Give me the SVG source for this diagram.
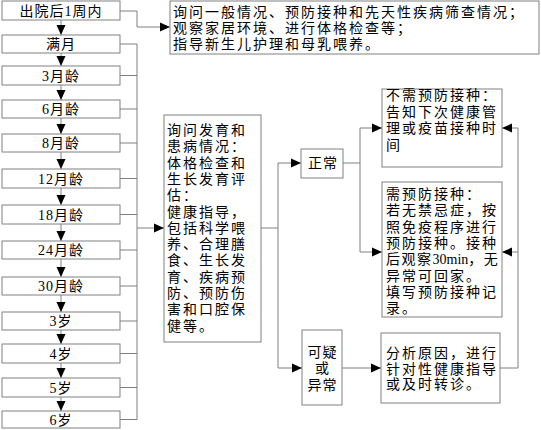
<svg xmlns="http://www.w3.org/2000/svg" width="541" height="430" viewBox="0 0 541 430">
<defs>
<marker id="ah" markerUnits="userSpaceOnUse" markerWidth="10" markerHeight="10" viewBox="0 0 10 10" refX="10" refY="5" orient="auto">
<path d="M0,0.5 L10,5 L0,9.5 Z" fill="#000"/>
</marker>
<style>
.box{fill:#fff;stroke:#808080;stroke-width:1}
.ln{fill:none;stroke:#808080;stroke-width:1}
.ar{fill:none;stroke:#808080;stroke-width:1;marker-end:url(#ah)}
text{font-family:"Liberation Serif","Noto Sans CJK SC",serif;font-size:14px;fill:#000}
.c{text-anchor:middle;letter-spacing:1px}
.t{letter-spacing:2px}
.n{letter-spacing:0;font-family:"Liberation Serif",serif}
.s{letter-spacing:1.5px}
</style>
</defs>
<rect width="541" height="430" fill="#fff"/>
<g id="connectors">
<line class="ar" x1="61" y1="20" x2="61" y2="35"/>
<line class="ar" x1="61" y1="53" x2="61" y2="66"/>
<line class="ar" x1="61" y1="85" x2="61" y2="100"/>
<line class="ar" x1="61" y1="118" x2="61" y2="134"/>
<line class="ar" x1="61" y1="152" x2="61" y2="169"/>
<line class="ar" x1="61" y1="188" x2="61" y2="205"/>
<line class="ar" x1="61" y1="224" x2="61" y2="241"/>
<line class="ar" x1="61" y1="259" x2="61" y2="277"/>
<line class="ar" x1="61" y1="295" x2="61" y2="312"/>
<line class="ar" x1="61" y1="330" x2="61" y2="344"/>
<line class="ar" x1="61" y1="363" x2="61" y2="378"/>
<line class="ar" x1="61" y1="397" x2="61" y2="411"/>
<polyline class="ar" points="120,11 137,11 137,27 170,27"/>
<path class="ln" d="M120,44H137M120,75.5H137M120,109H137M120,143H137M120,178.5H137M120,214.5H137M120,250H137M120,286H137M120,321H137M120,353.5H137M120,387.5H137M120,419.5H137M137,44V419.5"/>
<line class="ar" x1="137" y1="228" x2="164" y2="228"/>
<polyline class="ln" points="261,228 278,228"/>
<polyline class="ar" points="278,368 278,163 301,163"/>
<line class="ar" x1="278" y1="368" x2="302" y2="368"/>
<polyline class="ln" points="343,163 360,163"/>
<polyline class="ar" points="360,252 360,128 382,128"/>
<line class="ar" x1="360" y1="252" x2="382" y2="252"/>
<line class="ar" x1="342" y1="368" x2="381" y2="368"/>
<polyline class="ln" points="500,368 518,368 518,128"/>
<line class="ar" x1="518" y1="128" x2="502" y2="128"/>
<line class="ar" x1="518" y1="252" x2="502" y2="252"/>
</g>
<g id="n1"><rect class="box" x="2" y="1" width="118" height="19"/><text class="c" x="61" y="15.5">出院后1周内</text></g>
<g id="n2"><rect class="box" x="2" y="35" width="118" height="18"/><text class="c" x="61" y="49">满月</text></g>
<g id="n3"><rect class="box" x="2" y="66" width="118" height="19"/><text class="c" x="61" y="80.5">3月龄</text></g>
<g id="n4"><rect class="box" x="2" y="100" width="118" height="18"/><text class="c" x="61" y="114">6月龄</text></g>
<g id="n5"><rect class="box" x="2" y="134" width="118" height="18"/><text class="c" x="61" y="148">8月龄</text></g>
<g id="n6"><rect class="box" x="2" y="169" width="118" height="19"/><text class="c" x="61" y="183.5">12月龄</text></g>
<g id="n7"><rect class="box" x="2" y="205" width="118" height="19"/><text class="c" x="61" y="219.5">18月龄</text></g>
<g id="n8"><rect class="box" x="2" y="241" width="118" height="18"/><text class="c" x="61" y="255">24月龄</text></g>
<g id="n9"><rect class="box" x="2" y="277" width="118" height="18"/><text class="c" x="61" y="291">30月龄</text></g>
<g id="n10"><rect class="box" x="2" y="312" width="118" height="18"/><text class="c" x="61" y="326">3岁</text></g>
<g id="n11"><rect class="box" x="2" y="344" width="118" height="19"/><text class="c" x="61" y="358.5">4岁</text></g>
<g id="n12"><rect class="box" x="2" y="378" width="118" height="19"/><text class="c" x="61" y="392.5">5岁</text></g>
<g id="n13"><rect class="box" x="2" y="411" width="118" height="17"/><text class="c" x="61" y="424.5">6岁</text></g>
<g id="top"><rect class="box" x="170" y="1" width="369" height="53"/>
<text class="t" x="173"><tspan x="173" y="17">询问一般情况、预防接种和先天性疾病筛查情况；</tspan><tspan x="173" y="33">观察家居环境、进行体格检查等；</tspan><tspan x="173" y="48.5">指导新生儿护理和母乳喂养。</tspan></text></g>
<g id="mid"><rect class="box" x="164" y="115" width="97" height="227"/>
<text class="t"><tspan x="167" y="135">询问发育和</tspan><tspan x="167" y="151.3">患病情况：</tspan><tspan x="167" y="167.6">体格检查和</tspan><tspan x="167" y="183.9">生长发育评</tspan><tspan x="167" y="200.2">估：</tspan><tspan x="167" y="216.5">健康指导，</tspan><tspan x="167" y="232.8">包括科学喂</tspan><tspan x="167" y="249.1">养、合理膳</tspan><tspan x="167" y="265.4">食、生长发</tspan><tspan x="167" y="281.7">育、疾病预</tspan><tspan x="167" y="298">防、预防伤</tspan><tspan x="167" y="314.3">害和口腔保</tspan><tspan x="167" y="330.6">健等。</tspan></text></g>
<g id="normal"><rect class="box" x="301" y="149" width="42" height="29"/><text class="c" x="323" y="168">正常</text></g>
<g id="abn"><rect class="box" x="302" y="330" width="40" height="75"/><text class="c"><tspan x="322.5" y="357">可疑</tspan><tspan x="322.5" y="373">或</tspan><tspan x="322.5" y="390">异常</tspan></text></g>
<g id="novac"><rect class="box" x="382" y="89" width="120" height="78"/>
<text class="t"><tspan x="386" y="100">不需预防接种：</tspan><tspan x="386" y="116.5">告知下次健康管</tspan><tspan x="386" y="133">理或疫苗接种时</tspan><tspan x="386" y="149.5">间</tspan></text></g>
<g id="vac"><rect class="box" x="382" y="182" width="120" height="135"/>
<text class="t"><tspan x="386" y="199">需预防接种：</tspan><tspan x="386" y="215.3">若无禁忌症，按</tspan><tspan x="386" y="231.6">照免疫程序进行</tspan><tspan x="386" y="247.9">预防接种。接种</tspan><tspan x="386" y="264.2" class="s">后观察</tspan><tspan class="n">30min</tspan><tspan class="s">，无</tspan><tspan x="386" y="280.5">异常可回家。</tspan><tspan x="386" y="296.8">填写预防接种记</tspan><tspan x="386" y="313.1">录。</tspan></text></g>
<g id="analyze"><rect class="box" x="381" y="333" width="119" height="70"/>
<text class="t"><tspan x="386" y="358">分析原因，进行</tspan><tspan x="386" y="373.5">针对性健康指导</tspan><tspan x="386" y="389">或及时转诊。</tspan></text></g>
</svg>
